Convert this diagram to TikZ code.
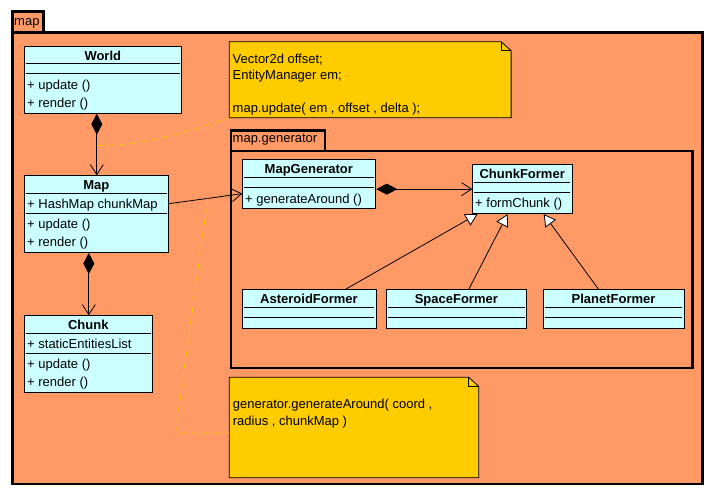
\documentclass[tikz,border=0pt]{standalone}
\usepackage{fontspec}
\setmainfont{Liberation Sans}
\usetikzlibrary{arrows.meta}
\definecolor{pkgbg}{HTML}{FF9966}
\definecolor{clsbg}{HTML}{CCFFFF}
\definecolor{notebg}{HTML}{FFCC00}
\begin{document}
\begin{tikzpicture}[x=1pt,y=-1pt,
  font=\fontsize{13}{16}\selectfont,
  pkgframe/.style={draw=black, fill=pkgbg, line width=2.5pt, rectangle, inner sep=0pt, anchor=north west},
  clsbox/.style={draw=black, fill=clsbg, line width=1pt, rectangle, inner sep=0pt, anchor=north west},
  clsname/.style={anchor=base, inner sep=0pt, font=\fontsize{13}{16}\selectfont\bfseries},
  member/.style={anchor=base west, inner sep=0pt},
  sepline/.style={line width=1pt},
  notebox/.style={rectangle, inner sep=0pt, anchor=north west},
  notefill/.style={draw=black, fill=notebg, line width=0.8pt, line join=miter},
  link/.style={draw=notebg, line width=0.8pt, dash pattern=on 6pt off 5pt},
  comp/.style={draw=black, line width=0.8pt, {Diamond[length=21pt,width=11pt,fill=black]}-{Straight Barb[length=10pt,width=13pt]}},
  assoc/.style={draw=black, line width=0.8pt, -{Straight Barb[length=10pt,width=13pt]}},
  gen/.style={draw=black, line width=0.8pt, -{Triangle[length=12pt,width=13pt,fill=white]}}
]
\useasboundingbox (0,0) rectangle (712,494);
\fill[white] (0,0) rectangle (712,494);

% outer package
\node[pkgframe, minimum width=31pt, minimum height=21pt] (maptab) at (11,10.5) {};
\node[pkgframe, minimum width=690pt, minimum height=451pt] (mappkg) at (11,31.5) {};
\node[member] (maplabel) at (14,25.7) {map};

% inner package
\node[pkgframe, minimum width=94pt, minimum height=20.5pt] (gentab) at (229.5,129.3) {};
\node[pkgframe, minimum width=461.5pt, minimum height=217pt] (genpkg) at (229.5,149.8) {};
\node[member] (genlabel) at (232.5,142.7) {map.generator};

% World
\node[clsbox, minimum width=157pt, minimum height=66.5pt] (world) at (24.3,46.2) {};
\node[clsname] (world-n) at (102.8,60.5) {World};
\draw[sepline] (26,64) -- (179.5,64) (26,74) -- (179.5,74);
\node[member] (world-m1) at (27,90) {+ update ()};
\node[member] (world-m2) at (27,107.3) {+ render ()};

% Map
\node[clsbox, minimum width=144pt, minimum height=76.7pt] (map) at (24.3,175.3) {};
\node[clsname] (map-n) at (96.3,189.5) {Map};
\draw[sepline] (26,193.3) -- (166.6,193.3) (26,213.3) -- (166.6,213.3);
\node[member] (map-a1) at (27,209) {+ HashMap chunkMap};
\node[member] (map-m1) at (27,228.7) {+ update ()};
\node[member] (map-m2) at (27,246.5) {+ render ()};

% Chunk
\node[clsbox, minimum width=128pt, minimum height=77pt] (chunk) at (24.3,315.3) {};
\node[clsname] (chunk-n) at (88.3,329.3) {Chunk};
\draw[sepline] (26,333.3) -- (150.6,333.3) (26,353) -- (150.6,353);
\node[member] (chunk-a1) at (27,348.3) {+ staticEntitiesList};
\node[member] (chunk-m1) at (27,368.3) {+ update ()};
\node[member] (chunk-m2) at (27,386.3) {+ render ()};

% MapGenerator
\node[clsbox, minimum width=133pt, minimum height=48.7pt] (mapgen) at (242.3,159.3) {};
\node[clsname] (mapgen-n) at (308.8,173.3) {MapGenerator};
\draw[sepline] (244,177.3) -- (373.6,177.3) (244,187.7) -- (373.6,187.7);
\node[member] (mapgen-m1) at (245,203.3) {+ generateAround ()};

% ChunkFormer
\node[clsbox, minimum width=99.7pt, minimum height=48.7pt] (cf) at (472.3,164.3) {};
\node[clsname] (cf-n) at (522.2,178.3) {ChunkFormer};
\draw[sepline] (474,182.3) -- (570.3,182.3) (474,192.3) -- (570.3,192.3);
\node[member] (cf-m1) at (475,207.7) {+ formChunk ()};

% subclasses
\node[clsbox, minimum width=133.4pt, minimum height=39pt] (asteroid) at (242.3,289.3) {};
\node[clsname] (asteroid-n) at (309,303.3) {AsteroidFormer};
\draw[sepline] (244,307.3) -- (374,307.3) (244,317.3) -- (374,317.3);

\node[clsbox, minimum width=140pt, minimum height=39pt] (space) at (386.3,289.3) {};
\node[clsname] (space-n) at (456.3,303.3) {SpaceFormer};
\draw[sepline] (388,307.3) -- (524.6,307.3) (388,317.3) -- (524.6,317.3);

\node[clsbox, minimum width=140.4pt, minimum height=39pt] (planet) at (543.3,289.3) {};
\node[clsname] (planet-n) at (613.5,303.3) {PlanetFormer};
\draw[sepline] (545,307.3) -- (682,307.3) (545,317.3) -- (682,317.3);

% notes
\node[notebox, minimum width=281.4pt, minimum height=75.6pt] (note1) at (229.3,41.7) {};
\draw[notefill] (note1.south west) -- (note1.north west) -- ([xshift=-10pt]note1.north east) -- ([yshift=-9pt]note1.north east) -- (note1.south east) -- cycle;
\draw[line width=0.8pt] ([xshift=-10pt]note1.north east) -- ([xshift=-10pt,yshift=-9pt]note1.north east) -- ([yshift=-9pt]note1.north east);
\node[member] (note1-l1) at (232.5,64) {Vector2d offset;};
\node[member] (note1-l2) at (232.5,80) {EntityManager em;};
\node[member] (note1-l3) at (232.5,112.2) {map.update( em , offset , delta );};

\node[notebox, minimum width=249pt, minimum height=100pt] (note2) at (229.3,377.3) {};
\draw[notefill] (note2.south west) -- (note2.north west) -- ([xshift=-10pt]note2.north east) -- ([yshift=-9pt]note2.north east) -- (note2.south east) -- cycle;
\draw[line width=0.8pt] ([xshift=-10pt]note2.north east) -- ([xshift=-10pt,yshift=-9pt]note2.north east) -- ([yshift=-9pt]note2.north east);
\node[member] (note2-l1) at (232.7,408.8) {generator.generateAround( coord ,};
\node[member] (note2-l2) at (232.7,425) {radius , chunkMap )};

% connectors
\draw[comp] ([xshift=-6.5pt]world.south) -- coordinate[pos=0.516] (wm) (map.north);
\draw[comp] ([xshift=-8pt]map.south) -- (chunk.north);
\draw[assoc] ([yshift=10.5pt]map.east) -- coordinate[pos=0.527] (mg) ([yshift=-9.5pt]mapgen.west);
\draw[comp] (mapgen.east |- cf.west) -- (cf.west);
\draw[gen] ([xshift=36pt]asteroid.north) -- ([xshift=-45pt]cf.south);
\draw[gen] ([xshift=12pt]space.north) -- ([xshift=-15pt]cf.south);
\draw[gen] ([xshift=-15.5pt]planet.north) -- ([xshift=21pt]cf.south);

% note links
\draw[link] (wm) .. controls (140,146) and (185,133) .. (note1.south west);
\coordinate (bend) at (175.5,433);
\draw[link] (mg) -- (bend) -- (bend -| note2.west);
\end{tikzpicture}
\end{document}
